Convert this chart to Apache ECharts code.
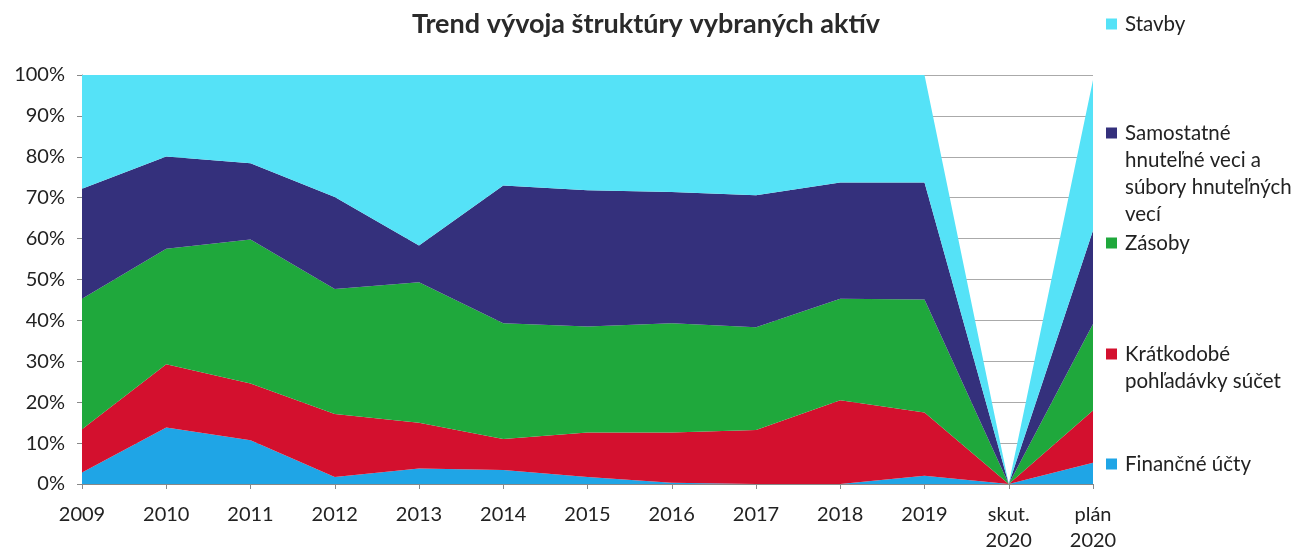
<!DOCTYPE html>
<html><head><meta charset="utf-8">
<script src="https://cdn.jsdelivr.net/npm/echarts@6/dist/echarts.min.js"></script>
<style>html,body{margin:0;padding:0;background:#fff}#c{width:1298px;height:548px}</style>
</head><body><div id="c"></div>
<script>
const categories = ['2009','2010','2011','2012','2013','2014','2015','2016','2017','2018','2019','skut.\n2020','plán\n2020'];
const financneUcty = [2.8, 13.8, 10.7, 1.7, 3.8, 3.4, 1.7, 0.3, 0, 0, 2, 0, 5.2];
const kratkodobePohladavky = [10.6, 15.5, 13.9, 15.4, 11.2, 7.6, 10.9, 12.3, 13.2, 20.5, 15.5, 0, 12.8];
const zasoby = [31.9, 28.2, 35.2, 30.6, 34.3, 28.3, 25.9, 26.7, 25.1, 24.8, 27.6, 0, 21.1];
const samostatneVeci = [26.9, 22.6, 18.6, 22.5, 9.0, 33.7, 33.3, 32.1, 32.3, 28.4, 28.6, 0, 22.9];
const stavby = [27.8, 19.9, 21.6, 29.8, 41.7, 27.0, 28.2, 28.6, 29.4, 26.3, 26.3, 0, 36.8];

const names = ['Finančné účty','Krátkodobé pohľadávky súčet','Zásoby','Samostatné hnuteľné veci a súbory hnuteľných vecí','Stavby'];
const legendLabels = {
  'Finančné účty':'Finančné účty',
  'Krátkodobé pohľadávky súčet':'Krátkodobé\npohľadávky súčet',
  'Zásoby':'Zásoby',
  'Samostatné hnuteľné veci a súbory hnuteľných vecí':'Samostatné\nhnuteľné veci a\nsúbory hnuteľných\nvecí',
  'Stavby':'Stavby'
};
const colors = ['#1FA5E6','#D3102E','#1FA83C','#34307C','#55E2F7'];
const dataSets = [financneUcty, kratkodobePohladavky, zasoby, samostatneVeci, stavby];
const FONT = 'Lato';
const LH = 27;

const legendCenters = {'Stavby':24,'Samostatné hnuteľné veci a súbory hnuteľných vecí':133,'Zásoby':243,'Krátkodobé pohľadávky súčet':354,'Finančné účty':464};

const legends = names.map((n)=>{
  const lines = legendLabels[n].split('\n').length;
  const h = lines*LH;
  const y0 = (LH-11)/2;
  return {
    data:[n], orient:'vertical', left:1101, top: legendCenters[n]-5-LH/2,
    itemWidth:11, itemHeight:h, itemGap:0, selectedMode:false,
    formatter: ()=>legendLabels[n],
    itemStyle:{borderWidth:0},
    textStyle:{fontFamily:FONT, fontSize:20.5, color:'#222', lineHeight:LH, padding:[0,0,0,3]},
    icon:`path://M0,0 M11,${h} M0,${y0} L11,${y0} L11,${y0+11} L0,${y0+11} Z`
  };
});

const series = names.map((n,i)=>({
  name:n, type:'line', stack:'total', data:dataSets[i], symbol:'none',
  lineStyle:{width:0}, areaStyle:{color:colors[i], opacity:1}, itemStyle:{color:colors[i]},
  emphasis:{disabled:true}
}));

const chart = echarts.init(document.getElementById('c'));
chart.setOption({
  animation:false,
  title:{text:'Trend vývoja štruktúry vybraných aktív', left:641, top:6, textAlign:'center',
    textStyle:{fontFamily:FONT, fontSize:27, fontWeight:'bold', color:'#2a2a2a'}},
  legend: legends,
  grid:{left:82, right:205, top:75, bottom:64, containLabel:false, outerBoundsMode:'none'},
  xAxis:{type:'category', data:categories, boundaryGap:false,
    axisLine:{lineStyle:{color:'#888'}}, axisTick:{show:true, length:5, lineStyle:{color:'#888'}},
    axisLabel:{fontFamily:FONT, fontSize:20, color:'#222', margin:18, lineHeight:26, interval:0}},
  yAxis:{type:'value', min:0, max:100, interval:10,
    axisLine:{show:true, lineStyle:{color:'#888'}}, axisTick:{show:true, length:5, lineStyle:{color:'#888'}},
    splitLine:{lineStyle:{color:'#aaa', width:1}},
    axisLabel:{formatter:'{value}%', fontFamily:FONT, fontSize:20, color:'#222', margin:17}},
  series: series
});
</script></body></html>
